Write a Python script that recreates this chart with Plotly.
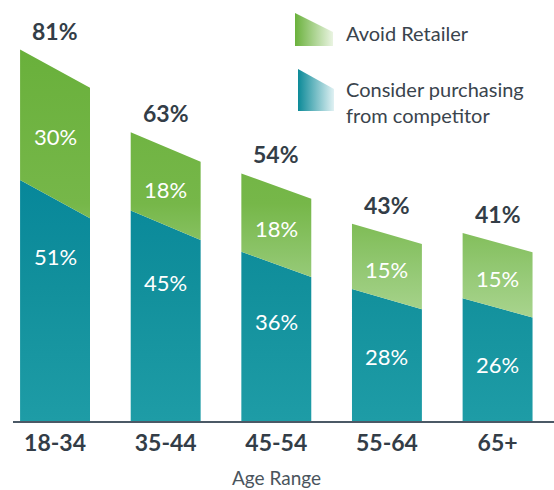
import plotly.graph_objects as go

# ---- data ----
age_ranges = ["18-34", "35-44", "45-54", "55-64", "65+"]
consider_competitor = [51, 45, 36, 28, 26]
avoid_retailer = [30, 18, 18, 15, 15]
totals = [c + a for c, a in zip(consider_competitor, avoid_retailer)]
axis_title = "Age Range"
legend_items = ["Avoid Retailer", "Consider purchasing<br>from competitor"]

# ---- style ----
HALF_W = 0.316          # half bar width in category units
TAPER = 0.054           # slant of bar tops, fraction of bar total
FONT = "Lato"
DARK = "#333d47"
GREEN_SCALE = [[0, "#b0d897"], [0.227, "#93c873"], [0.4545, "#76b749"], [1, "#69b03b"]]
TEAL_SCALE = [[0, "#1e9ca6"], [0.55, "#12909c"], [1, "#07879a"]]

fig = go.Figure()


def polygons(lower, upper):
    xs, ys = [], []
    for i, (lo, up, tot) in enumerate(zip(lower, upper, totals)):
        d = TAPER * tot
        lo_l = lo + d if lo > 0 else 0
        lo_r = lo - d if lo > 0 else 0
        xs += [i - HALF_W, i + HALF_W, i + HALF_W, i - HALF_W, i - HALF_W, None]
        ys += [lo_l, lo_r, up - d, up + d, lo_l, None]
    return xs, ys


zeros = [0] * len(age_ranges)
tx, ty = polygons(zeros, consider_competitor)
gx, gy = polygons(consider_competitor, totals)

fig.add_trace(go.Scatter(
    x=tx, y=ty, mode="lines", fill="toself", line=dict(width=0),
    fillcolor="#12909c",
    fillgradient=dict(type="vertical", colorscale=TEAL_SCALE, start=0, stop=56),
    hoverinfo="skip", showlegend=False))
fig.add_trace(go.Scatter(
    x=gx, y=gy, mode="lines", fill="toself", line=dict(width=0),
    fillcolor="#76b749",
    fillgradient=dict(type="vertical", colorscale=GREEN_SCALE, start=20, stop=86),
    hoverinfo="skip", showlegend=False))

annotations = []
for i in range(len(age_ranges)):
    tot = totals[i]
    d = TAPER * tot
    annotations.append(dict(x=i, y=tot + d, xref="x", yref="y",
                            text=f"{tot}%", showarrow=False, yanchor="bottom", yshift=3,
                            font=dict(family=FONT, size=23, color=DARK, weight="bold")))
    annotations.append(dict(x=i, y=consider_competitor[i] + avoid_retailer[i] / 2, xref="x", yref="y",
                            text=f"{avoid_retailer[i]}%", showarrow=False, yanchor="middle", yshift=-3,
                            font=dict(family=FONT, size=22, color="white")))
    annotations.append(dict(x=i, y=consider_competitor[i], xref="x", yref="y",
                            text=f"{consider_competitor[i]}%", showarrow=False, yanchor="middle", yshift=-57,
                            font=dict(family=FONT, size=22, color="white")))

# axis title, centred under the middle category
annotations.append(dict(x=(len(age_ranges) - 1) / 2, y=0, xref="x", yref="paper", text=axis_title,
                        showarrow=False, yanchor="middle", yshift=-56, borderpad=0,
                        font=dict(family=FONT, size=19, color="#4a545d")))

# ---- legend (drawn on an overlay axis in pixel units) ----
fig.add_trace(go.Scatter(
    x=[295, 333, 333, 295, 295], y=[13, 32, 46, 46, 13], xaxis="x2", yaxis="y2",
    mode="lines", fill="toself", line=dict(width=0), fillcolor="#8cc468",
    fillgradient=dict(type="horizontal", colorscale=[[0, "#6ab13c"], [1, "#eaf4e2"]], start=295, stop=333),
    hoverinfo="skip", showlegend=False))
fig.add_trace(go.Scatter(
    x=[298, 334, 334, 298, 298], y=[69, 89, 111, 111, 69], xaxis="x2", yaxis="y2",
    mode="lines", fill="toself", line=dict(width=0), fillcolor="#5fb3bb",
    fillgradient=dict(type="horizontal", colorscale=[[0, "#0c8a98"], [1, "#e0f1f3"]], start=298, stop=334),
    hoverinfo="skip", showlegend=False))
annotations.append(dict(x=344, y=33, xref="x2", yref="y2", text=legend_items[0], showarrow=False,
                        xanchor="left", yanchor="middle", align="left",
                        font=dict(family=FONT, size=20, color="#3a444d")))
annotations.append(dict(x=344, y=102, xref="x2", yref="y2", text=legend_items[1], showarrow=False,
                        xanchor="left", yanchor="middle", align="left",
                        font=dict(family=FONT, size=20, color="#3a444d")))

fig.update_layout(
    width=554, height=490,
    margin=dict(l=13, r=0, t=0, b=69),
    paper_bgcolor="white", plot_bgcolor="white",
    showlegend=False,
    annotations=annotations,
    xaxis=dict(range=[-0.38, 4.51], tickmode="array", tickvals=list(range(len(age_ranges))),
               ticktext=age_ranges, showgrid=False, zeroline=False, automargin=False,
               showline=True, linecolor="#4b5966", linewidth=2, ticks="",
               tickfont=dict(family=FONT, size=23, color=DARK, weight="bold"),
               fixedrange=True),
    yaxis=dict(range=[0, 421 / 4.35], visible=False, fixedrange=True),
    xaxis2=dict(overlaying="x", range=[13, 554], visible=False, fixedrange=True),
    yaxis2=dict(overlaying="y", range=[421, 0], visible=False, fixedrange=True),
)

fig.write_html("out.html", config={"displayModeBar": False},
               post_script="document.body.style.margin='0';")
